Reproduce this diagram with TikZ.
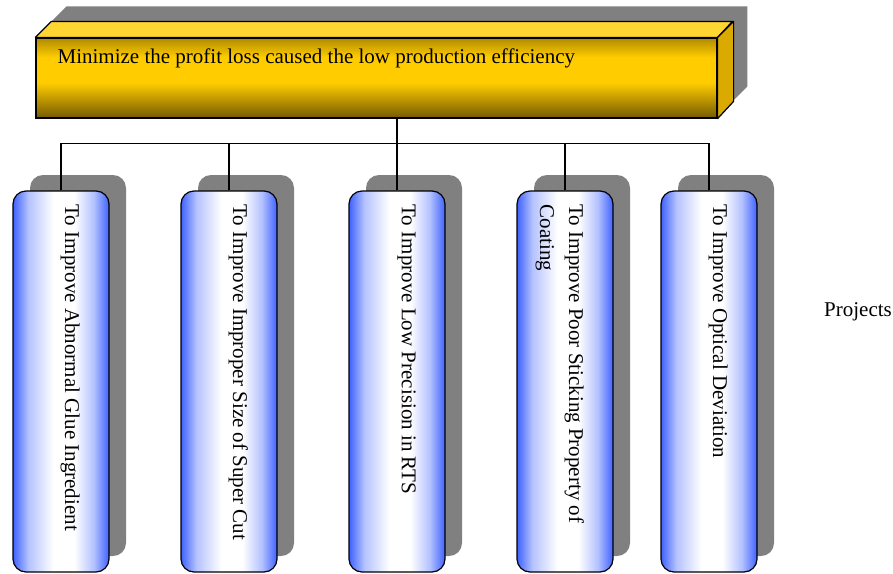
\documentclass[tikz,border=0pt]{standalone}
\usepackage{fontspec}
\setmainfont{Liberation Serif}
\usetikzlibrary{shadows,backgrounds}

\definecolor{shadowgray}{HTML}{808080}
\definecolor{goldtop}{HTML}{FFD532}
\definecolor{goldside}{HTML}{DAAA00}
\definecolor{goldrim}{HTML}{B08A00}
\definecolor{goldmid}{HTML}{FFCC00}
\definecolor{golddark}{HTML}{745A00}
\definecolor{barblue}{HTML}{3F62FF}
\definecolor{barpale}{HTML}{B4C2FF}

% front face of the goal bar and the project columns
\pgfdeclareverticalshading{goldfront}{100bp}{color(0bp)=(golddark); color(25bp)=(golddark);
  color(47bp)=(goldmid); color(63bp)=(goldmid); color(75bp)=(goldrim); color(100bp)=(goldrim)}
\pgfdeclarehorizontalshading{bluebar}{100bp}{color(0bp)=(barblue); color(25bp)=(barblue);
  color(33bp)=(barpale); color(46bp)=(white); color(57bp)=(white); color(67bp)=(barpale); color(75bp)=(barblue); color(100bp)=(barblue)}

\begin{document}
\begin{tikzpicture}[x=1pt, y=-1pt,
	every node/.style={font=\fontsize{21}{29}\selectfont},
	goalbar/.style={draw, line width=1.2pt, shading=goldfront, minimum width=681pt, minimum height=80pt, inner sep=0pt},
	face/.style={draw, line width=1.2pt, line join=round},
	project/.style={draw, line width=1.2pt, rounded corners=13pt, shading=bluebar, minimum width=96pt, minimum height=381pt, inner sep=0pt,
		drop shadow={shadow xshift=17pt, shadow yshift=16pt, fill=shadowgray, opacity=1}},
	projtext/.style={rotate=-90, anchor=north west, align=left, inner sep=0pt},
	link/.style={line width=1.1pt}]
	\useasboundingbox (0,0) rectangle (893,573);

	% goal bar with its 3d faces
	\node[goalbar] (goal) at (376.5,78) {};
	\filldraw[face, fill=goldtop] (goal.north west) -- ++(16,-16) -- ++(681,0) -- (goal.north east) -- cycle;
	\filldraw[face, fill=goldside] (goal.north east) -- ++(16,-16) -- ++(0,80) -- (goal.south east) -- cycle;
	\begin{scope}[on background layer]
		\fill[shadowgray] ([shift={(15,-15)}]goal.north west) -- ++(16,-16) -- ++(681,0) -- ++(0,80) -- ++(-16,16) -- ++(-681,0) -- cycle;
	\end{scope}
	\node[anchor=base west, inner sep=0pt] (title) at ([shift={(22,26)}]goal.north west)
		{Minimize the profit loss caused the low production efficiency};

	% project columns
	\foreach \cx/\txt [count=\i] in {61/To Improve Abnormal Glue Ingredient,
		229/To Improve Improper Size of Super Cut,
		397/To Improve Low Precision in RTS,
		565/{To Improve Poor Sticking Property of\\Coating},
		709/To Improve Optical Deviation} {
		\node[project] (p\i) at (\cx,381.5) {};
		\node[projtext] (t\i) at ([shift={(19,14)}]p\i.north) {\txt};
	}

	\node[anchor=base west, inner sep=0pt] (lvl) at (824,316) {Projects};

	% tree lines
	\draw[link] (p3.north |- goal.south) -- ++(0,25) coordinate (bus);
	\foreach \i in {1,...,5}
		\draw[link] (bus) -| (p\i.north);
\end{tikzpicture}
\end{document}
